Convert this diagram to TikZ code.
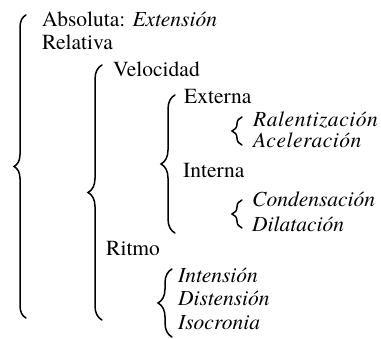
\documentclass[tikz,border=0pt]{standalone}
\usepackage{fontspec}
\IfFontExistsTF{texgyretermes-regular.otf}
  {\setmainfont{texgyretermes}[Extension=.otf, UprightFont=*-regular, ItalicFont=*-italic]}
  {}
\usetikzlibrary{decorations.pathreplacing}
\tikzset{
  term/.style={anchor=base west, inner sep=0pt, font=\fontsize{21.5}{26}\selectfont},
  subterm/.style={term, font=\fontsize{21.5}{26}\selectfont\itshape},
  spaced/.style={term, font=\fontsize{21.5}{26}\selectfont\itshape\addfontfeatures{LetterSpace=2.5}},
  curly/.style={decorate, decoration={brace, amplitude=#1}, line width=1.5pt, line cap=round}
}

\begin{document}
\begin{tikzpicture}[x=1pt, y=-1pt]
\useasboundingbox (0,0) rectangle (381,339);
\node[term] (abs) at (42,27) {Absoluta: \textit{Extensión}};
\node[term] (rel) at (42,50) {Relativa};
\node[term] (vel) at (113,77) {Velocidad};
\node[term] (ext) at (184,104) {Externa};
\node[spaced] (ral) at (253,127) {Ralentización};
\node[spaced] (ace) at (253,148) {Aceleración};
\node[term] (int) at (183,178) {Interna};
\node[subterm] (con) at (252,207) {Condensación};
\node[subterm] (dil) at (252,232) {Dilatación};
\node[term] (rit) at (106,256) {Ritmo};
\node[subterm] (ints) at (178,283) {Intensión};
\node[subterm] (dis) at (178,306) {Distensión};
\node[subterm] (iso) at (178,330) {Isocronia};
% brace end points
\coordinate (b1a) at (26,318);  \coordinate (b1b) at (26,15);
\coordinate (b2a) at (102,320); \coordinate (b2b) at (102,65);
\coordinate (b3a) at (175,233); \coordinate (b3b) at (175,95);
\coordinate (b4a) at (242,145); \coordinate (b4b) at (242,117);
\coordinate (b5a) at (242,228); \coordinate (b5b) at (242,200);
\coordinate (b6a) at (172,337); \coordinate (b6b) at (172,269);
\foreach \u/\v/\a in {b1a/b1b/12,b2a/b2b/14,b3a/b3b/14,b4a/b4b/10,b5a/b5b/10,b6a/b6b/14}{\draw[curly=\a] (\u) -- (\v);}
\end{tikzpicture}
\end{document}
